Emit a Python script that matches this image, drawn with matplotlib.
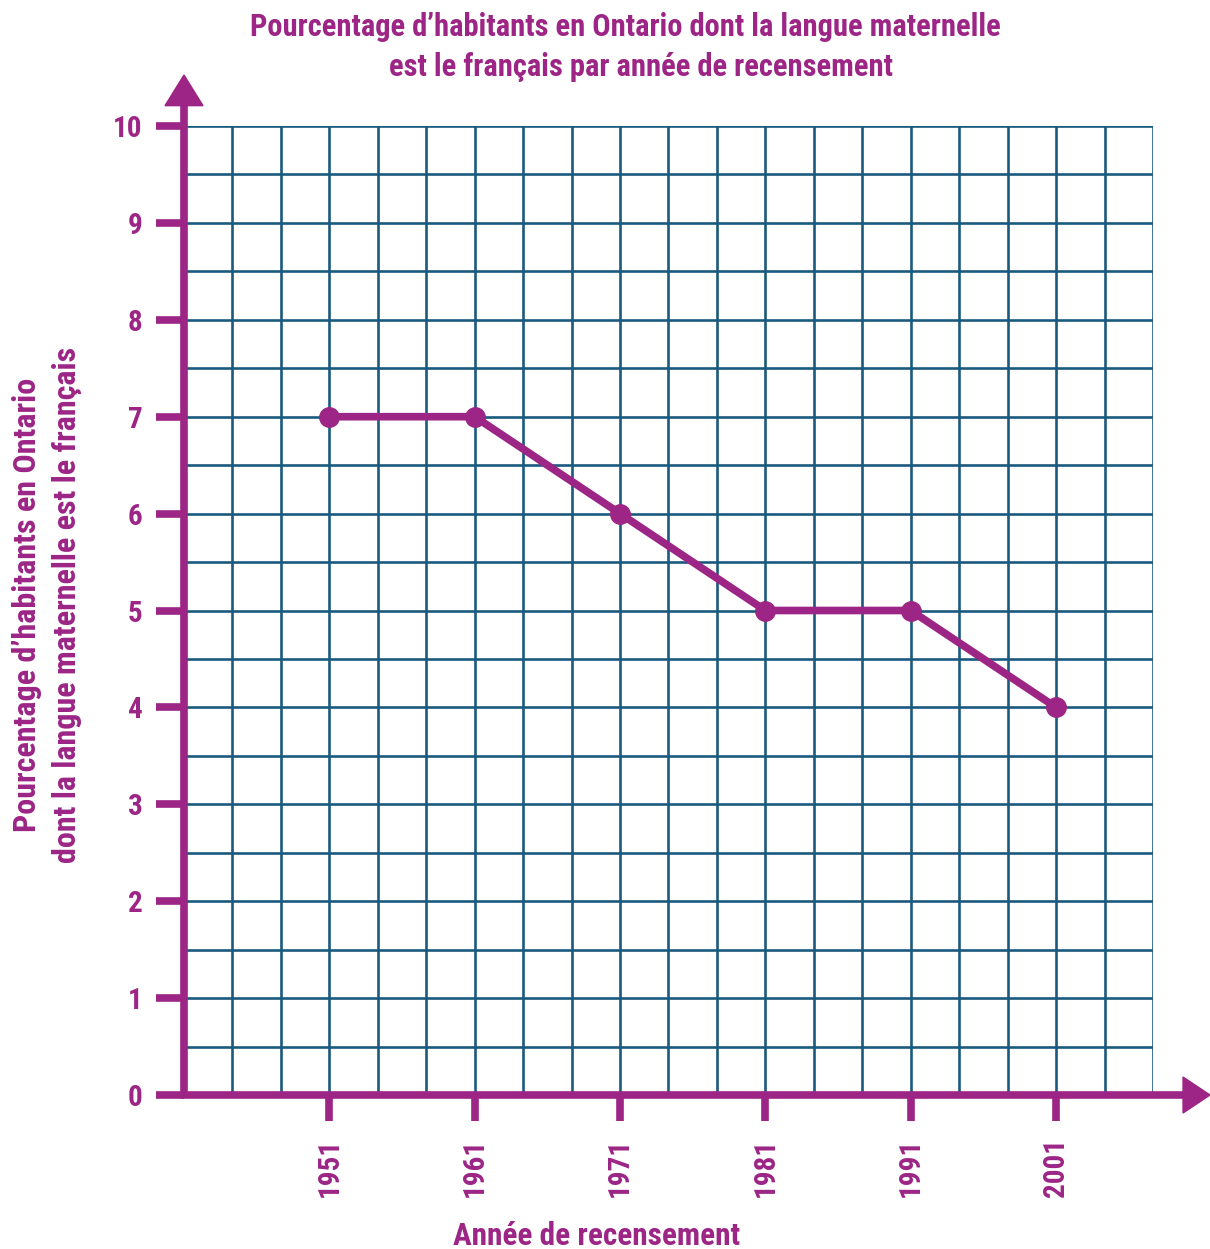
import numpy as np
import matplotlib.pyplot as plt
from matplotlib.patches import Polygon

# Données du recensement
annees = [1951, 1961, 1971, 1981, 1991, 2001]
pourcentages = [7, 7, 6, 5, 5, 4]
etiquettes_y = [str(v) for v in range(0, 11)]

violet = '#9c2585'
bleu = '#1a5a7e'

plt.rcParams['font.family'] = ['Roboto Condensed', 'DejaVu Sans']
plt.rcParams['font.weight'] = 'bold'

fig = plt.figure(figsize=(12.1, 12.49), dpi=100)
W, H = 1210, 1249
ax = fig.add_axes([184 / W, 1 - 1095 / H, 969 / W, 969 / H])

x0 = 1941
pas = 10 / 3
ax.set_xlim(x0, x0 + 20 * pas)
ax.set_ylim(0, 10)

# grille
ax.set_xticks(annees)
ax.set_xticks([x0 + k * pas for k in range(21)], minor=True)
ax.set_yticks(range(0, 11))
ax.set_yticks(np.arange(0, 10.01, 0.5), minor=True)
ax.grid(which='both', color=bleu, lw=1.9)
ax.set_axisbelow(True)

ax.set_xticklabels(annees, rotation=90, fontsize=21, color=violet, fontweight='bold')
ax.set_yticklabels(etiquettes_y, fontsize=21, color=violet, fontweight='bold')
ax.tick_params(which='minor', length=0)
ax.tick_params(axis='y', which='major', length=20, width=5.5, color=violet, pad=10)
ax.tick_params(axis='x', which='major', length=19, width=5.5, color=violet, pad=12)

for s in ax.spines.values():
    s.set_visible(False)

# axes avec flèches
tr = ax.transAxes
ax.plot([0, 0], [0, 1.025], color=violet, lw=5.5, transform=tr, clip_on=False, solid_capstyle='butt', zorder=5)
ax.plot([-0.003, 1.035], [0, 0], color=violet, lw=5.5, transform=tr, clip_on=False, solid_capstyle='butt', zorder=5)
ax.add_patch(Polygon([[-0.0196, 1.021], [0.0196, 1.021], [0, 1.0526]], closed=True,
                     color=violet, transform=tr, clip_on=False, zorder=6))
ax.add_patch(Polygon([[1.031, -0.0186], [1.031, 0.0186], [1.0588, 0]], closed=True,
                     color=violet, transform=tr, clip_on=False, zorder=6))

# courbe
ax.plot(annees, pourcentages, color=violet, lw=5.5, marker='o', markersize=14,
        clip_on=False, zorder=7)

fig.text(625 / W, 1 - 27 / H, "Pourcentage d’habitants en Ontario dont la langue maternelle",
         ha='center', va='center', fontsize=22, color=violet, fontweight='bold')
fig.text(641 / W, 1 - 67 / H, "est le français par année de recensement",
         ha='center', va='center', fontsize=22, color=violet, fontweight='bold')
fig.text(47 / W, 1 - 605 / H, "Pourcentage d’habitants en Ontario\ndont la langue maternelle est le français",
         ha='center', va='center', rotation=90, fontsize=23, color=violet, fontweight='bold',
         linespacing=1.45)
fig.text(597 / W, 1 - 1236 / H, "Année de recensement",
         ha='center', va='center', fontsize=22.5, color=violet, fontweight='bold')

fig.savefig('out.png', dpi=100)
